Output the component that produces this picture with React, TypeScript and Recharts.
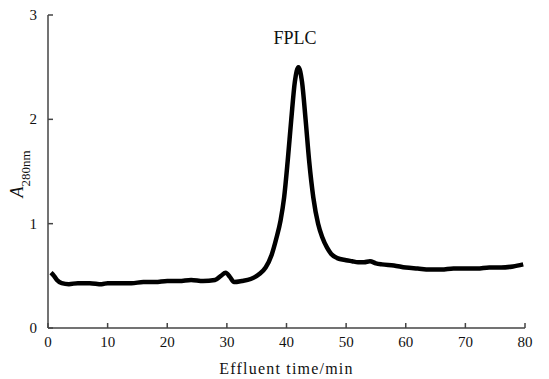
import { LineChart, Line, XAxis, YAxis } from 'recharts';

// elution profile: time (min) vs absorbance
const times = [
  0.5, 1.0, 1.5, 2.3, 3.5, 5, 7, 9, 10, 12, 14, 16, 18, 20, 22, 24, 26, 28, 29, 29.8,
  30.5, 31.2, 32.5, 34, 35.5, 36.5, 37.5, 38.3, 39, 39.6, 40.2, 40.8, 41.4, 42, 42.6,
  43.2, 43.8, 44.5, 45.3, 46, 46.8, 47.5, 48.5, 50, 51, 52, 53, 54, 55, 56, 58, 60,
  62, 64, 66, 68, 70, 72, 74, 76, 78, 79.7,
];
const absorbance = [
  0.53, 0.5, 0.46, 0.43, 0.42, 0.43, 0.43, 0.42, 0.43, 0.43, 0.43, 0.44, 0.44, 0.45, 0.45, 0.46, 0.45, 0.46, 0.5, 0.53,
  0.49, 0.44, 0.45, 0.47, 0.52, 0.58, 0.7, 0.86, 1.03, 1.25, 1.6, 2.0, 2.36, 2.5, 2.36,
  2.0, 1.6, 1.25, 1.0, 0.87, 0.77, 0.71, 0.67, 0.65, 0.64, 0.63, 0.63, 0.64, 0.62, 0.61, 0.6, 0.58,
  0.57, 0.56, 0.56, 0.57, 0.57, 0.57, 0.58, 0.58, 0.59, 0.61,
];
const xTicks = [0, 10, 20, 30, 40, 50, 60, 70, 80];
const yTicks = [0, 1, 2, 3];

const data = times.map((t, i) => ({ t, a: absorbance[i] }));

const font = '"Liberation Serif", "Times New Roman", serif';
const axisColor = '#444';

// ticks point inward, so draw them ourselves
const XTick = (props: any) => {
  const { x, y, payload } = props;
  const axisY = y - 2;
  return (
    <g>
      <line x1={x} y1={axisY} x2={x} y2={axisY - 5} stroke={axisColor} strokeWidth={1.5} />
      <text x={x} y={axisY + 19} textAnchor="middle" fontFamily={font} fontSize={15} fill="#111">
        {payload.value}
      </text>
    </g>
  );
};

const YTick = (props: any) => {
  const { x, y, payload } = props;
  const axisX = x + 2;
  return (
    <g>
      <line x1={axisX} y1={y} x2={axisX + 5} y2={y} stroke={axisColor} strokeWidth={1.5} />
      <text x={axisX - 11} y={y + 5} textAnchor="end" fontFamily={font} fontSize={15} fill="#111">
        {payload.value}
      </text>
    </g>
  );
};

const YLabel = () => (
  <text x={23} y={174} transform="rotate(-90 23 174)" textAnchor="middle" fontFamily={font} fill="#111">
    <tspan fontSize={18} fontStyle="italic">A</tspan>
    <tspan fontSize={13} dy={7}>280nm</tspan>
  </text>
);

export default function App() {
  return (
    <div style={{ position: 'absolute', left: 0, top: 0, width: 549, height: 379, background: '#fff' }}>
      <LineChart width={549} height={379} data={data} margin={{ top: 15, right: 24, left: 0, bottom: 0 }}>
        <XAxis
          dataKey="t"
          type="number"
          domain={[0, 80]}
          ticks={xTicks}
          height={51}
          tickSize={0}
          tickMargin={2}
          tickLine={false}
          tick={<XTick />}
          axisLine={{ stroke: axisColor, strokeWidth: 1.5 }}
          label={{
            value: 'Effluent time/min',
            position: 'insideBottom',
            offset: 5,
            fontFamily: font,
            fontSize: 16,
            fill: '#111',
            letterSpacing: 1.2,
          }}
        />
        <YAxis
          type="number"
          domain={[0, 3]}
          ticks={yTicks}
          width={48}
          tickSize={0}
          tickMargin={2}
          tickLine={false}
          tick={<YTick />}
          axisLine={{ stroke: axisColor, strokeWidth: 1.5 }}
          label={<YLabel />}
        />
        <Line
          type="monotone"
          dataKey="a"
          stroke="#000"
          strokeWidth={4.5}
          dot={false}
          activeDot={false}
          isAnimationActive={false}
        />
        <text x={295} y={44} textAnchor="middle" fontFamily={font} fontSize={18} fill="#111">
          FPLC
        </text>
      </LineChart>
    </div>
  );
}
